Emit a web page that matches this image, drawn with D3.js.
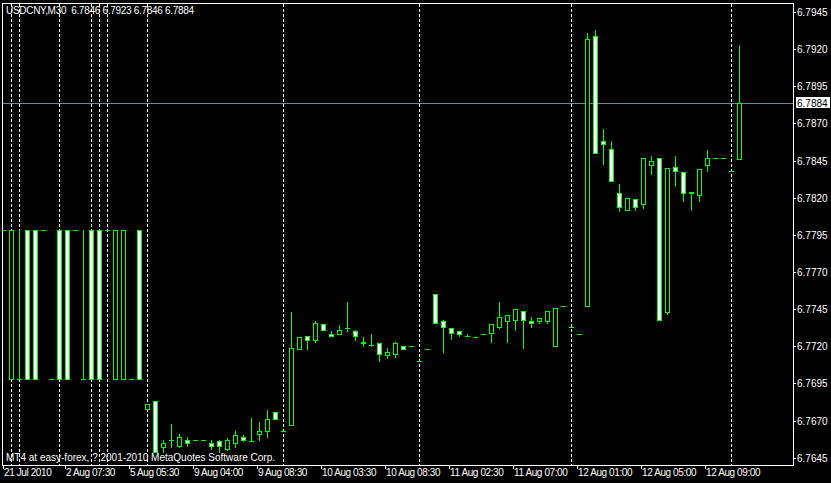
<!DOCTYPE html>
<html><head><meta charset="utf-8">
<script src="https://cdn.jsdelivr.net/npm/d3@7"></script>
<style>html,body{margin:0;padding:0;background:#000;overflow:hidden}</style>
</head><body><svg id="c" width="831" height="483"></svg>
<script>
const symbolTitle = "USDCNY,M30  6.7846 6.7923 6.7846 6.7884";
const copyright = "MT4 at easy-forex, ? 2001-2010 MetaQuotes Software Corp.";

const opens = [
6.7798,6.7698,6.7698,6.7798,6.7798,6.7798,6.7698,6.7798,6.7798,6.7798,
6.7698,6.7798,6.7798,6.7798,6.7698,6.7698,6.7698,6.7798,6.7678,6.7683,
6.7652,6.7657,6.7653,6.7657,6.7657,6.7657,6.7655,6.7656,6.7651,6.7655,
6.7659,6.7656,6.7661,6.7663,6.7676,6.7663,6.7667,6.7718,6.7727,6.7724,
6.7735,6.7728,6.7728,6.7732,6.7730,6.7723,6.7721,6.7722,6.7714,6.7715,
6.7720,6.7720,6.7710,6.7718,6.7755,6.7737,6.7732,6.7730,6.7727,6.7726,
6.7728,6.7729,6.7733,6.7737,6.7738,6.7744,6.7737,6.7737,6.7737,6.7720,
6.7747,6.7733,6.7728,6.7747,6.7929,6.7858,6.7853,6.7823,6.7812,6.7819,
6.7816,6.7842,6.7847,6.7743,6.7841,6.7837,6.7824,6.7822,6.7842,6.7847,
6.7847,6.7838,6.7846];
const highs = [
6.7798,6.7798,6.7798,6.7798,6.7798,6.7798,6.7698,6.7798,6.7798,6.7798,
6.7798,6.7798,6.7798,6.7798,6.7798,6.7798,6.7698,6.7798,6.7681,6.7683,
6.7657,6.7668,6.7661,6.7659,6.7657,6.7657,6.7657,6.7657,6.7658,6.7663,
6.7660,6.7672,6.7669,6.7677,6.7676,6.7663,6.7743,6.7726,6.7727,6.7737,
6.7735,6.7730,6.7734,6.7750,6.7731,6.7726,6.7728,6.7722,6.7719,6.7723,
6.7720,6.7720,6.7710,6.7718,6.7755,6.7738,6.7732,6.7730,6.7728,6.7726,
6.7728,6.7735,6.7750,6.7741,6.7745,6.7744,6.7740,6.7739,6.7744,6.7746,
6.7747,6.7733,6.7728,6.7931,6.7933,6.7866,6.7858,6.7829,6.7820,6.7819,
6.7847,6.7848,6.7847,6.7840,6.7848,6.7837,6.7824,6.7839,6.7852,6.7847,
6.7847,6.7838,6.7923];
const lows = [
6.7798,6.7698,6.7698,6.7698,6.7698,6.7798,6.7698,6.7698,6.7698,6.7798,
6.7698,6.7698,6.7698,6.7798,6.7698,6.7698,6.7698,6.7698,6.7678,6.7649,
6.7649,6.7652,6.7652,6.7653,6.7657,6.7657,6.7651,6.7649,6.7650,6.7652,
6.7656,6.7656,6.7657,6.7659,6.7671,6.7663,6.7667,6.7718,6.7718,6.7723,
6.7731,6.7727,6.7728,6.7730,6.7724,6.7720,6.7720,6.7710,6.7712,6.7713,
6.7718,6.7720,6.7710,6.7718,6.7736,6.7716,6.7725,6.7727,6.7727,6.7726,
6.7728,6.7723,6.7732,6.7723,6.7731,6.7719,6.7733,6.7736,6.7736,6.7720,
6.7747,6.7733,6.7728,6.7747,6.7850,6.7843,6.7831,6.7811,6.7812,6.7812,
6.7813,6.7836,6.7738,6.7742,6.7828,6.7818,6.7812,6.7818,6.7838,6.7847,
6.7847,6.7838,6.7846];
const closes = [
6.7798,6.7798,6.7698,6.7698,6.7698,6.7798,6.7698,6.7698,6.7698,6.7798,
6.7698,6.7698,6.7698,6.7798,6.7798,6.7798,6.7698,6.7698,6.7681,6.7649,
6.7655,6.7657,6.7659,6.7655,6.7657,6.7657,6.7653,6.7653,6.7657,6.7660,
6.7657,6.7656,6.7663,6.7671,6.7671,6.7663,6.7719,6.7726,6.7724,6.7736,
6.7731,6.7727,6.7731,6.7732,6.7727,6.7722,6.7721,6.7715,6.7716,6.7722,
6.7718,6.7720,6.7710,6.7718,6.7736,6.7733,6.7729,6.7728,6.7727,6.7726,
6.7728,6.7735,6.7740,6.7741,6.7745,6.7738,6.7736,6.7739,6.7744,6.7746,
6.7747,6.7733,6.7728,6.7927,6.7850,6.7856,6.7831,6.7814,6.7820,6.7814,
6.7847,6.7845,6.7738,6.7840,6.7838,6.7823,6.7823,6.7839,6.7847,6.7847,
6.7847,6.7838,6.7884];

const daySeparators = [1,2,7,11,12,13,18,35,52,71,91];
const timeLabelBars = [0,8,16,24,32,40,48,56,64,72,80,88];
const timeLabels = ["21 Jul 2010","2 Aug 07:30","5 Aug 05:30","9 Aug 04:00","9 Aug 08:30",
  "10 Aug 03:30","10 Aug 08:30","11 Aug 02:30","11 Aug 07:00","12 Aug 01:00","12 Aug 05:00","12 Aug 09:00"];
const priceTicks = [6.7645,6.7670,6.7695,6.7720,6.7745,6.7770,6.7795,6.7820,6.7845,6.7870,6.7895,6.7920,6.7945];
const bidPrice = 6.7884;

const W = 831, H = 483;
const L = 2, R = 793, T = 3, B = 465;
const GREEN = "#00ff00";
const FONT = "'Liberation Sans', Arial, sans-serif";

const svg = d3.select("#c").attr("shape-rendering","crispEdges");
svg.append("rect").attr("width",W).attr("height",H).attr("fill","#000");

const x = d3.scaleLinear().domain([0, 98]).range([3, 787]);
const y = d3.scaleLinear().domain([6.7645, 6.7945]).range([457.7, 12]);
const px = i => Math.round(x(i));
const py = v => Math.round(y(v));

svg.append("defs").append("clipPath").attr("id","plot")
  .append("rect").attr("x",L+1).attr("y",T+1).attr("width",R-L-1).attr("height",B-T-1);

const plot = svg.append("g").attr("clip-path","url(#plot)");

// period separators
plot.selectAll("line.sep").data(daySeparators).join("line").attr("class","sep")
  .attr("x1",d=>px(d)+0.5).attr("x2",d=>px(d)+0.5).attr("y1",T+1).attr("y2",B)
  .attr("stroke","#fff").attr("stroke-dasharray","3,2");

// bid line
plot.append("line").attr("x1",L).attr("x2",R).attr("y1",py(bidPrice)+0.5).attr("y2",py(bidPrice)+0.5)
  .attr("stroke","#778899");

const bars = d3.range(opens.length).map(i => ({i, o:opens[i], h:highs[i], l:lows[i], c:closes[i]}));
const g = plot.selectAll("g.bar").data(bars).join("g").attr("class","bar");

g.filter(d => py(d.h) !== py(d.l)).append("line")
  .attr("x1",d=>px(d.i)+0.5).attr("x2",d=>px(d.i)+0.5)
  .attr("y1",d=>py(d.h)).attr("y2",d=>py(d.l)+1).attr("stroke",GREEN);

g.filter(d => py(d.o) === py(d.c)).append("line")
  .attr("x1",d=>px(d.i)-2).attr("x2",d=>px(d.i)+3)
  .attr("y1",d=>py(d.o)+0.5).attr("y2",d=>py(d.o)+0.5).attr("stroke",GREEN);

g.filter(d => py(d.o) !== py(d.c)).append("rect")
  .attr("x",d=>px(d.i)-2+0.5).attr("width",4)
  .attr("y",d=>Math.min(py(d.o),py(d.c))+0.5)
  .attr("height",d=>Math.abs(py(d.o)-py(d.c)))
  .attr("fill",d=>d.c > d.o ? "#000" : "#fff").attr("stroke",GREEN);

// frame
svg.append("rect").attr("x",L+0.5).attr("y",T+0.5).attr("width",R-L).attr("height",B-T)
  .attr("fill","none").attr("stroke","#fff");

// price axis
const fmt = d3.format(".4f");
const pa = svg.append("g");
pa.selectAll("line").data(priceTicks).join("line")
  .attr("x1",R).attr("x2",R+3).attr("y1",d=>py(d)+0.5).attr("y2",d=>py(d)+0.5).attr("stroke","#fff");
pa.selectAll("text").data(priceTicks).join("text")
  .attr("x",R+4).attr("y",d=>py(d)+0.5).attr("dy","0.35em")
  .attr("fill","#fff").attr("font-family",FONT).attr("font-size","10px")
  .text(d=>fmt(d));

// bid label
const by = py(bidPrice);
svg.append("rect").attr("x",R+3).attr("y",by-6).attr("width",34).attr("height",11).attr("fill","#fff");
svg.append("text").attr("x",R+4).attr("y",by+0.5).attr("dy","0.35em")
  .attr("fill","#000").attr("font-family",FONT).attr("font-size","10px").text(fmt(bidPrice));

// time axis
const ta = svg.append("g");
const tx = b => Math.max(3, px(b)-2);
ta.selectAll("line").data(timeLabelBars).join("line")
  .attr("x1",d=>tx(d)+0.5).attr("x2",d=>tx(d)+0.5).attr("y1",B).attr("y2",B+4).attr("stroke","#fff");
ta.selectAll("text").data(timeLabelBars).join("text")
  .attr("x",d=>tx(d)+1).attr("y",472).attr("dy","0.35em")
  .attr("fill","#fff").attr("font-family",FONT).attr("font-size","10px").attr("letter-spacing","-0.4px")
  .text((d,k)=>timeLabels[k]);

// title and copyright
svg.append("text").attr("x",6).attr("y",10).attr("dy","0.35em").attr("xml:space","preserve")
  .style("white-space","pre")
  .attr("fill","#fff").attr("font-family",FONT).attr("font-size","10px").attr("letter-spacing","-0.3px")
  .text(symbolTitle);
svg.append("text").attr("x",6).attr("y",457).attr("dy","0.35em")
  .attr("fill","#fff").attr("font-family",FONT).attr("font-size","10px")
  .text(copyright);
</script></body></html>
